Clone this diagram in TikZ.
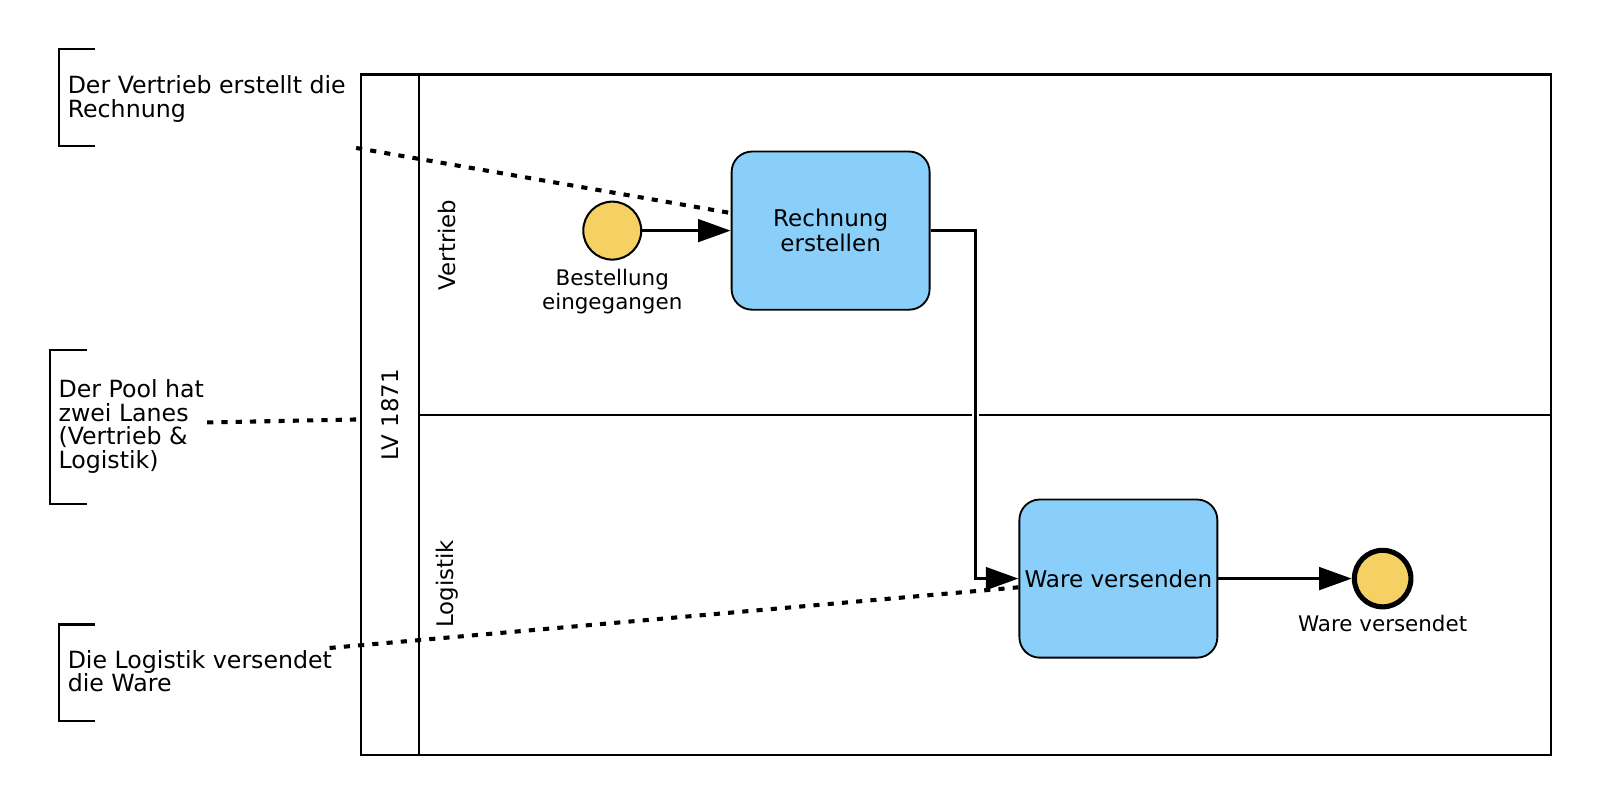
\documentclass[tikz,border=0pt]{standalone}
\usepackage{fontspec}
\setmainfont{DejaVu Sans}
\usetikzlibrary{arrows.meta,positioning,calc}

\definecolor{taskblue}{HTML}{89CFF9}
\definecolor{evyellow}{HTML}{F5D063}

\tikzset{
  task/.style={draw, line width=0.9pt, rounded corners=10pt, fill=taskblue,
    minimum width=97pt, minimum height=77.5pt, align=center, inner sep=1pt,
    font=\fontsize{11.3}{12}\selectfont},
  startev/.style={circle, draw, line width=1pt, fill=evyellow, minimum size=28.4pt, inner sep=0pt},
  endev/.style={circle, draw, line width=2.5pt, fill=evyellow, minimum size=27.7pt, inner sep=0pt},
  evlabel/.style={align=center, inner sep=0pt, font=\fontsize{10.5}{11.5}\selectfont},
  flow/.style={line width=1.7pt, -{Triangle[length=16pt,width=11pt]}},
  halo/.style={preaction={draw=white, line width=3.7pt}},
  assoc/.style={line width=2pt, dash pattern=on 3pt off 4pt},
  annot/.style={align=left, inner sep=0pt, anchor=north west, font=\fontsize{11.6}{11.5}\selectfont},
  bracket/.style={line width=1pt},
  lanelabel/.style={rotate=90, inner sep=0pt, font=\fontsize{11.2}{12}\selectfont}
}

\begin{document}
\begin{tikzpicture}[x=0.5pt,y=-0.5pt]
    \useasboundingbox (0,0) rectangle (1568,788);
    % Pool and lanes
    \node[draw, line width=1pt, inner sep=0pt, minimum width=583pt, minimum height=333.5pt,
      anchor=north west] (pool) at (353,72) {};
    \draw[line width=1pt] ([xshift=29pt]pool.north west) -- ([xshift=29pt]pool.south west);
    \node[lanelabel] (poolname) at ($(pool.north west)!0.5!([xshift=29pt]pool.south west)$) {LV 1871};
    \coordinate (lanesplit) at (411,407);
    \draw[line width=1pt] (lanesplit) -- (lanesplit -| pool.east);
    \node[lanelabel] (vertrieb) at (438,240) {Vertrieb};
    \node[lanelabel] (logistik) at (438,572) {Logistik};
    % Events and tasks
    \node[startev] (start) at (600,226) {};
    \node[evlabel, below=4.25pt of start] (startlbl) {Bestellung\\eingegangen};
    \node[task] (rech) at (814,226) {Rechnung\\erstellen};
    \node[task] (ware) at (1096,567) {Ware versenden};
    \node[endev] (endev) at (1355,567) {};
    \node[evlabel, below=2.5pt of endev] (endlbl) {Ware versendet};
    % Sequence flows
    \draw[flow] (start) -- (rech);
    \draw[flow, halo] (rech.east) -- ++(44,0) |- (ware.west);
    \draw[flow] (ware) -- (endev);
    % Annotations
    \draw[bracket] (93,48) -- (58,48) -- (58,143) -- (93,143);
    \node[annot] (ann1) at (66,74) {Der Vertrieb erstellt die\\Rechnung};
    \draw[bracket] (85,343) -- (49,343) -- (49,494) -- (85,494);
    \node[annot] (ann2) at (57,372) {Der Pool hat\\zwei Lanes\\(Vertrieb \&\\Logistik)};
    \draw[bracket] (93,612) -- (58,612) -- (58,707) -- (93,707);
    \node[annot] (ann3) at (66,637) {Die Logistik versendet\\die Ware};
    % Associations
    \coordinate (a1) at (349,145);
    \coordinate (a2) at (203,414);
    \coordinate (a2end) at (353,411);
    \coordinate (a3) at (323,635);
    \draw[assoc] (a1) -- (rech.170);
    \draw[assoc] (a2) -- (a2end);
    \draw[assoc] (a3) -- (ware.185);
\end{tikzpicture}
\end{document}
